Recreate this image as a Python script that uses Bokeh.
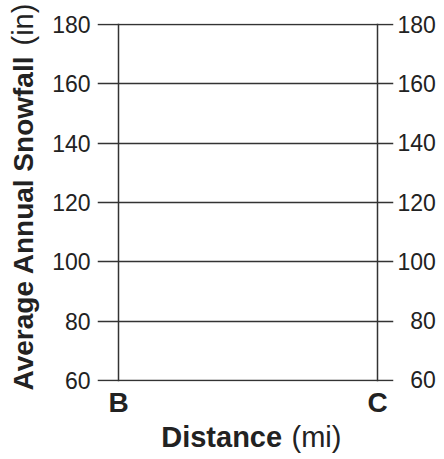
import math
from bokeh.plotting import figure
from bokeh.models import LinearAxis, FixedTicker, Range1d
from bokeh.layouts import row, column
from bokeh.core.properties import value
from bokeh.embed import file_html
from bokeh.resources import INLINE

# ---- data ----
y_ticks = [60, 80, 100, 120, 140, 160, 180]
x_ticks = [0, 1]
x_tick_labels = ["B", "C"]
x_title_bold = "Distance"
x_title_unit = "(mi)"
y_title_bold = "Average Annual Snowfall"
y_title_unit = "(in)"

FONT = "Liberation Sans"
LINE = "#333333"
TEXT = "#222222"

# overall layout (pixels)
W_TOTAL = 440
W_Y = 46            # column holding the y title
H_MAIN = 420        # height of the chart row
H_X = 36            # strip holding the x title
FL, FR, FT, FB = 97, 393, 23, 383   # frame edges on the page

X0, X1 = -0.0811, 1.0618
Y0, Y1 = 59.6, 180.4

MID = 0.3465        # distance from baseline to text-box centre, in em

def blank(width, height):
    f = figure(width=width, height=height, output_backend="svg", toolbar_location=None,
               x_range=Range1d(0, width), y_range=Range1d(0, height),
               min_border=0, x_axis_location=None, y_axis_location=None,
               frame_align=False)
    f.outline_line_color = None
    f.xgrid.visible = False
    f.ygrid.visible = False
    f.background_fill_color = "white"
    f.border_fill_color = "white"
    return f

# ---------------- main chart ----------------
W_MAIN = W_TOTAL - W_Y
p = figure(width=W_MAIN, height=H_MAIN, output_backend="svg", toolbar_location=None,
           x_range=Range1d(X0, X1), y_range=Range1d(Y0, Y1),
           min_border_left=FL - W_Y, min_border_right=W_TOTAL - FR, min_border_top=FT,
           min_border_bottom=H_MAIN - FB, y_axis_location=None, x_axis_location=None,
           frame_align=False)
p.outline_line_color = None
p.background_fill_color = "white"
p.border_fill_color = "white"

def style_axis(ax, size, bold=False):
    ax.axis_line_color = None
    ax.major_tick_line_color = None
    ax.minor_tick_line_color = None
    ax.major_tick_out = 0
    ax.major_tick_in = 0
    ax.minor_tick_out = 0
    ax.minor_tick_in = 0
    ax.major_label_text_font = FONT
    ax.major_label_text_font_size = size
    ax.major_label_text_color = TEXT
    ax.major_label_text_font_style = "bold" if bold else "normal"

left = LinearAxis(ticker=FixedTicker(ticks=y_ticks, minor_ticks=[]))
style_axis(left, "23px")
left.major_label_standoff = 7
p.add_layout(left, "left")

right = LinearAxis(ticker=FixedTicker(ticks=y_ticks, minor_ticks=[]))
style_axis(right, "23px")
right.major_label_standoff = 4
right.major_label_overrides = {t: ("\u2007" + str(t) if t < 100 else str(t)) for t in y_ticks}
p.add_layout(right, "right")

below = LinearAxis(ticker=FixedTicker(ticks=x_ticks, minor_ticks=[]))
style_axis(below, "28px", bold=True)
below.major_label_standoff = 5
below.major_label_overrides = {t: lab for t, lab in zip(x_ticks, x_tick_labels)}
p.add_layout(below, "below")

p.xgrid.ticker = FixedTicker(ticks=x_ticks, minor_ticks=[])
p.ygrid.ticker = FixedTicker(ticks=y_ticks, minor_ticks=[])
for g in (p.xgrid, p.ygrid):
    g.grid_line_color = LINE
    g.grid_line_width = 1.5
    g.grid_line_alpha = 1.0

# ---------------- y title (rotated, bold + normal) ----------------
py = blank(W_Y, H_MAIN)
y_base = 32.5     # page x of the rotated baseline
py.text(x=[y_base - MID * 28], y=[H_MAIN - 390], text=[y_title_bold], angle=math.pi / 2,
        text_font=value(FONT), text_font_size=value("28px"), text_font_style=value("bold"),
        text_color=TEXT, text_align=value("left"), text_baseline=value("middle"))
py.text(x=[y_base - MID * 29], y=[H_MAIN - 45], text=[y_title_unit], angle=math.pi / 2,
        text_font=value(FONT), text_font_size=value("29px"), text_font_style=value("normal"),
        text_color=TEXT, text_align=value("left"), text_baseline=value("middle"))

# ---------------- x title (bold + normal) ----------------
px = blank(W_TOTAL, H_X)
x_base = 447      # page y of the baseline
mid_y = (H_MAIN + H_X) - (x_base - MID * 29)
px.text(x=[281.6], y=[mid_y], text=[x_title_bold],
        text_font=value(FONT), text_font_size=value("29px"), text_font_style=value("bold"),
        text_color=TEXT, text_align=value("right"), text_baseline=value("middle"))
px.text(x=[291.0], y=[mid_y], text=[x_title_unit],
        text_font=value(FONT), text_font_size=value("29px"), text_font_style=value("normal"),
        text_color=TEXT, text_align=value("left"), text_baseline=value("middle"))

layout = column(row(py, p, spacing=0), px, spacing=0)
open("out.html", "w").write(file_html(layout, INLINE))
